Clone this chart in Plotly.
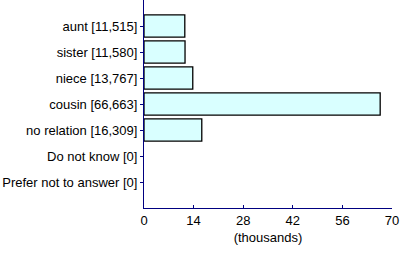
import plotly.graph_objects as go

categories = ["aunt", "sister", "niece", "cousin", "no relation", "Do not know", "Prefer not to answer"]
counts = [11515, 11580, 13767, 66663, 16309, 0, 0]
x_ticks = [0, 14, 28, 42, 56, 70]

labels = [f"{c} [{v:,}]" for c, v in zip(categories, counts)]
values_k = [v / 1000 for v in counts]
line_widths = [1.3 if v > 0 else 0 for v in counts]

fig = go.Figure(go.Bar(
    x=values_k, y=labels, orientation="h",
    width=0.85,
    marker=dict(color="#d9ffff", line=dict(color="black", width=line_widths)),
))
fig.update_layout(
    width=400, height=254,
    margin=dict(l=144, r=8, t=0, b=46),
    paper_bgcolor="white", plot_bgcolor="white",
    font=dict(family="Liberation Sans, Arial", size=13, color="black"),
    showlegend=False,
)
fig.update_xaxes(
    range=[0, 70], tickvals=x_ticks, ticktext=[str(t) for t in x_ticks],
    showgrid=False, zeroline=False,
    showline=True, linecolor="#000080", linewidth=1,
    ticks="inside", ticklen=3, tickcolor="#000080",
    title=dict(text="(thousands)", standoff=6, font=dict(size=13)),
)
fig.update_yaxes(
    range=[6 + 1, -1], type="category",
    showgrid=False, zeroline=False,
    showline=True, linecolor="#000080", linewidth=1,
    ticks="outside", ticklen=3, tickcolor="#000080",
)
fig.write_html("out.html")
